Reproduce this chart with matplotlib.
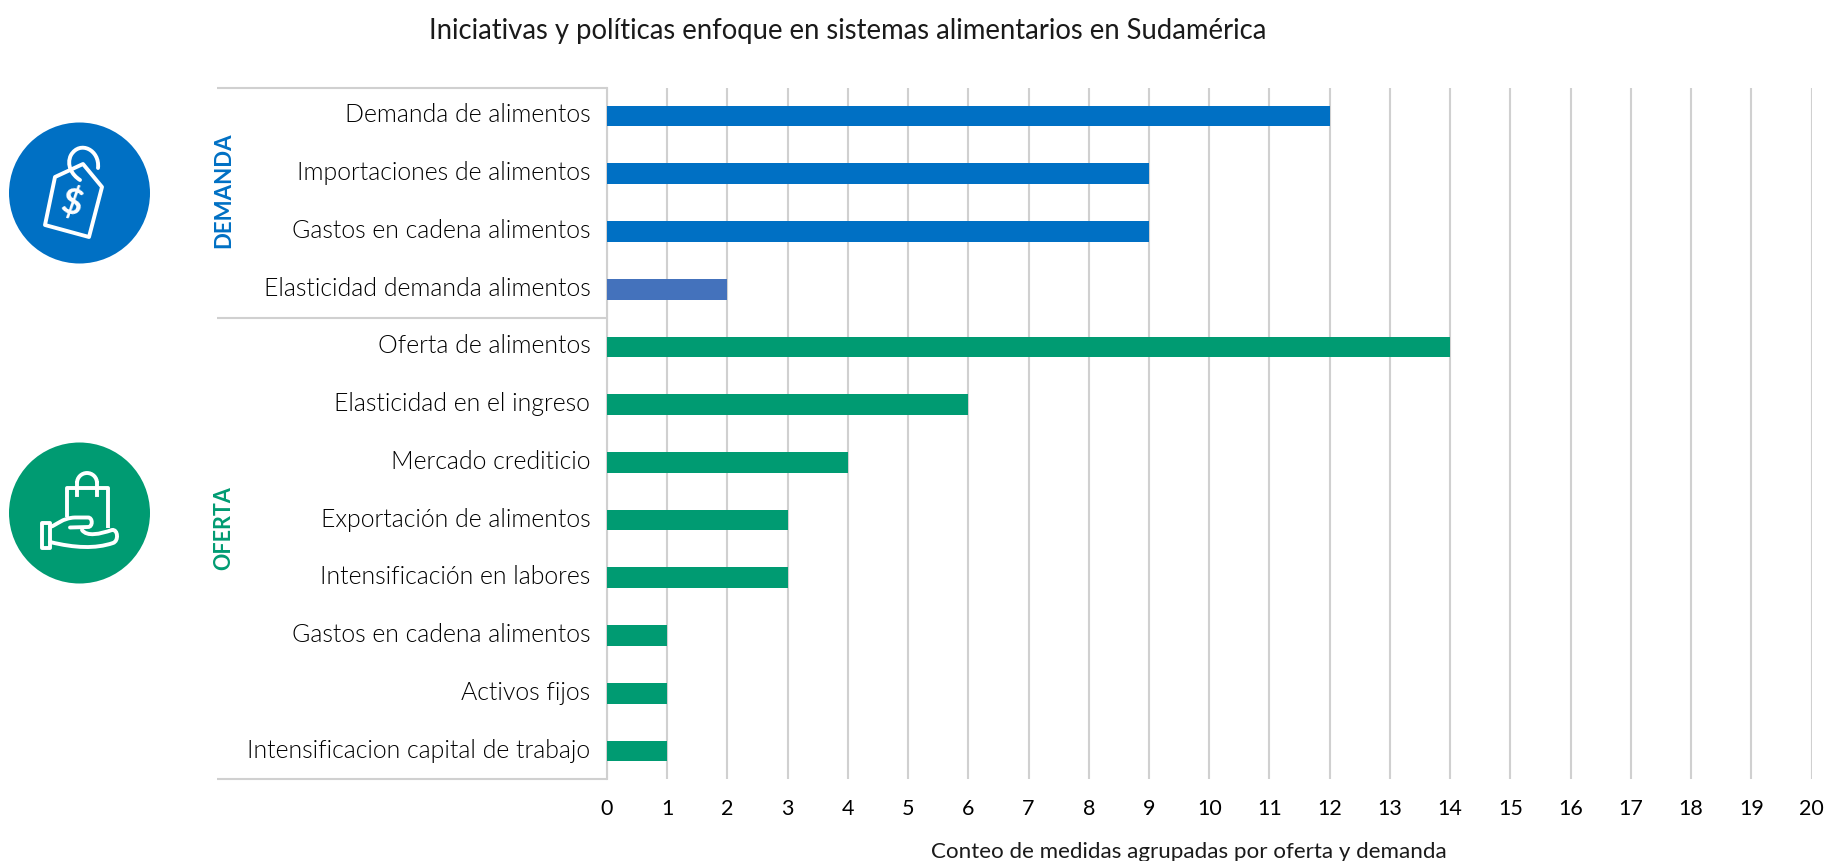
#!/usr/bin/env python3
# -*- coding: utf-8 -*-
"""Iniciativas y politicas en sistemas alimentarios - horizontal bars by group."""

import matplotlib
matplotlib.use("Agg")
import matplotlib.pyplot as plt
from matplotlib import font_manager as fm
from matplotlib.patches import Circle, Polygon, Rectangle, Arc, PathPatch
from matplotlib.path import Path
from matplotlib.transforms import ScaledTranslation

W, H = 1848, 861

TITLE = "Iniciativas y políticas enfoque en sistemas alimentarios en Sudamérica"
XLABEL = "Conteo de medidas agrupadas por oferta y demanda"

demanda_labels = ["Demanda de alimentos", "Importaciones de alimentos",
                  "Gastos en cadena alimentos", "Elasticidad demanda alimentos"]
demanda_values = [12, 9, 9, 2]

oferta_labels = ["Oferta de alimentos", "Elasticidad en el ingreso", "Mercado crediticio",
                 "Exportación de alimentos", "Intensificación en labores",
                 "Gastos en cadena alimentos", "Activos fijos",
                 "Intensificacion capital de trabajo"]
oferta_values = [14, 6, 4, 3, 3, 1, 1, 1]

x_ticks = list(range(0, 21))

BLUE = "#0070C4"
BLUE2 = "#4472BC"
GREEN = "#009B72"
GRID = "#D0D0D0"
TEXT = "#1A1A1A"

labels = demanda_labels + oferta_labels
values = demanda_values + oferta_values
colors = [BLUE, BLUE, BLUE, BLUE2] + [GREEN] * len(oferta_values)

plt.rcParams["font.family"] = ["Lato", "DejaVu Sans"]

# the named light weight resolves to a thinner cut, so look up the real Light file
light_files = [f.fname for f in fm.fontManager.ttflist
               if f.fname.endswith("Lato-Light.ttf")]
if light_files:
    label_font = fm.FontProperties(fname=light_files[0], size=17.9)
else:
    label_font = fm.FontProperties(family="Lato", size=17)

fig = plt.figure(figsize=(W / 100, H / 100), dpi=100, facecolor="white")

# main chart, placed in pixel terms
left, right, top, bottom = 607, 1811.5, 88, 779
ax = fig.add_axes([left / W, 1 - bottom / H, (right - left) / W, (bottom - top) / H])
ax.barh(range(len(values)), values, height=0.36, color=colors, zorder=3)
ax.set_xlim(0, 20)
ax.set_ylim(11.485, -0.485)
ax.set_xticks(x_ticks)
ax.set_yticks(range(len(labels)))
ax.set_yticklabels(labels, color="black")
ax.tick_params(axis="y", length=0, pad=12)
ax.tick_params(axis="x", length=0, pad=14.5, labelsize=15.5, labelcolor="black")
nudge = ScaledTranslation(0, 3 / 100, fig.dpi_scale_trans)
for lab in ax.get_yticklabels():
    lab.set_fontproperties(label_font)
    lab.set_transform(lab.get_transform() + nudge)
ax.grid(axis="x", color=GRID, linewidth=1.5, zorder=0)
ax.set_axisbelow(True)
for s in ["top", "right", "bottom"]:
    ax.spines[s].set_visible(False)
ax.spines["left"].set_color(GRID)
ax.spines["left"].set_linewidth(1.5)
ax.set_xlabel(XLABEL, fontsize=16.1, color=TEXT)
ax.xaxis.set_label_coords((1189 - left) / (right - left), -(852 - bottom) / (bottom - top),
                          transform=ax.transAxes)
ax.xaxis.label.set_verticalalignment("center")

# overlay in pixel coordinates for the rules and icons
ov = fig.add_axes([0, 0, 1, 1], facecolor="none")
ov.set_xlim(0, W)
ov.set_ylim(H, 0)
ov.axis("off")

for y in [88, 318, 779]:
    ov.plot([217, left], [y, y], color=GRID, lw=1.5, solid_capstyle="butt")

ov.text(847.5, 30.5, TITLE, ha="center", va="center", fontsize=19.8, color=TEXT)
ov.text(223.5, 190.5, "DEMANDA", rotation=90, ha="center", va="center",
        fontsize=16, fontweight="bold", color=BLUE)
ov.text(223.5, 528.5, "OFERTA", rotation=90, ha="center", va="center",
        fontsize=15.5, fontweight="bold", color=GREEN)

# price tag icon
lw_icon = 2.8
ov.add_patch(Circle((79.5, 193), 70.5, color=BLUE, lw=0))
ov.add_patch(Polygon([(45, 225), (89, 237), (102, 187), (83, 164), (55, 177)], closed=True,
                     fill=False, ec="white", lw=lw_icon, joinstyle="round"))
hook = Path([(98, 168), (100, 150), (80, 140), (71, 155), (66, 165), (72, 175), (80, 180)],
            [Path.MOVETO] + [Path.CURVE4] * 6)
ov.add_patch(PathPatch(hook, fill=False, ec="white", lw=lw_icon, capstyle="round"))
ov.text(72, 203, "$", rotation=-15, ha="center", va="center", fontsize=26,
        fontweight="bold", color="white")

# hand with bag icon
ov.add_patch(Circle((79.5, 513), 70.5, color=GREEN, lw=0))
bag = Path([(67, 517), (67, 488), (108, 488), (108, 528)],
           [Path.MOVETO, Path.LINETO, Path.LINETO, Path.LINETO])
ov.add_patch(PathPatch(bag, fill=False, ec="white", lw=lw_icon, joinstyle="round"))
ov.add_patch(Arc((87, 483), 20, 20, theta1=180, theta2=360, color="white", lw=lw_icon))
ov.plot([77, 77], [483, 495], color="white", lw=lw_icon)
ov.plot([97, 97], [483, 495], color="white", lw=lw_icon)
ov.add_patch(Rectangle((42, 523), 8, 25, fill=False, ec="white", lw=lw_icon, joinstyle="round"))
fingers = Path([(50, 527), (57, 525), (62, 518), (75, 517.5), (88, 517.5),
                (93, 517.5), (93, 527), (88, 527), (70, 527.5)],
               [Path.MOVETO, Path.CURVE4, Path.CURVE4, Path.CURVE4, Path.LINETO,
                Path.CURVE4, Path.CURVE4, Path.CURVE4, Path.LINETO])
palm = Path([(82, 530), (87, 537), (100, 534), (112, 530), (118, 529), (119, 541), (113, 543),
             (95, 549), (75, 548), (50, 542)],
            [Path.MOVETO] + [Path.CURVE4] * 9)
for part in [fingers, palm]:
    ov.add_patch(PathPatch(part, fill=False, ec="white", lw=lw_icon, capstyle="round"))

fig.savefig("out.png", dpi=100)
